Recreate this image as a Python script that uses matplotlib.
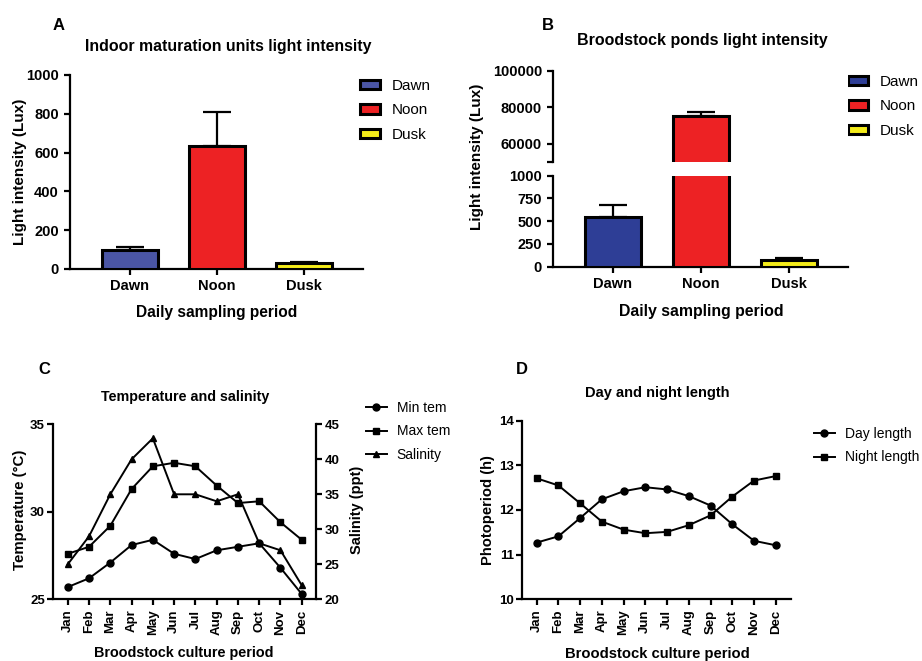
import matplotlib
matplotlib.use("Agg")
import matplotlib.pyplot as plt
from matplotlib.patches import Patch
import numpy as np

plt.rcParams['font.family'] = ['Liberation Sans', 'DejaVu Sans']

# ---------------- data ----------------
periods = ["Dawn", "Noon", "Dusk"]
indoor_mean = [100, 636, 30]
indoor_err = [13, 172, 7]
pond_mean = [545, 75000, 78]
pond_err = [136, 2200, 17]
bar_colors_a = ["#4b56a5", "#ed2224", "#f4ec1a"]
bar_colors_b = ["#2e3e96", "#ed2224", "#f4ec1a"]

months = ["Jan", "Feb", "Mar", "Apr", "May", "Jun", "Jul", "Aug", "Sep", "Oct", "Nov", "Dec"]
min_tem = [25.7, 26.2, 27.1, 28.1, 28.4, 27.6, 27.3, 27.8, 28.0, 28.2, 26.8, 25.3]
max_tem = [27.6, 28.0, 29.2, 31.3, 32.6, 32.8, 32.6, 31.5, 30.5, 30.6, 29.4, 28.4]
salinity = [25, 29, 35, 40, 43, 35, 35, 34, 35, 28, 27, 22]
day_length = [11.27, 11.41, 11.82, 12.24, 12.42, 12.51, 12.46, 12.31, 12.10, 11.68, 11.31, 11.21]
night_length = [12.71, 12.55, 12.15, 11.74, 11.56, 11.48, 11.51, 11.66, 11.88, 12.30, 12.66, 12.76]

W, H = 922, 661
fig = plt.figure(figsize=(W / 100, H / 100), dpi=100)

def fx(px):
    return px / W

def fy(py):
    return 1 - py / H

def rect(l, t, r, b):
    return [fx(l), fy(b), fx(r) - fx(l), fy(t) - fy(b)]

SPW = 1.6
BEW = 2.2

def style_axes(ax, bottom=True):
    for s in ["top", "right"]:
        ax.spines[s].set_visible(False)
    ax.spines["left"].set_linewidth(SPW)
    ax.spines["bottom"].set_linewidth(SPW)
    if not bottom:
        ax.spines["bottom"].set_visible(False)
    ax.tick_params(width=SPW, length=4.5, direction="out")

# ---------------- Panel A ----------------
axA = fig.add_axes(rect(70, 75, 363, 269))
xa = np.arange(len(periods))
axA.bar(xa, indoor_mean, width=0.64, color=bar_colors_a, edgecolor="black", linewidth=BEW, zorder=3)
axA.errorbar(xa, indoor_mean, yerr=[[0] * 3, indoor_err], fmt="none", ecolor="black",
             elinewidth=1.6, capsize=10, capthick=1.6, zorder=2)
axA.set_xlim(-0.69, 2.68)
axA.set_ylim(0, 1000)
axA.set_yticks([0, 200, 400, 600, 800, 1000])
axA.set_xticks(xa)
axA.set_xticklabels(periods)
style_axes(axA)
for lab in axA.get_xticklabels():
    lab.set_fontsize(10.5); lab.set_fontweight("bold")
for lab in axA.get_yticklabels():
    lab.set_fontsize(10.5); lab.set_fontweight("bold")
axA.tick_params(axis="x", pad=3)
handlesA = [Patch(facecolor=c, edgecolor="black", linewidth=BEW, label=p) for c, p in zip(bar_colors_a, periods)]
axA.legend(handles=handlesA, loc="upper left", bbox_to_anchor=(fx(360), fy(79)),
           bbox_transform=fig.transFigure, frameon=False, fontsize=11, borderpad=0,
           borderaxespad=0, handlelength=1.3, handleheight=0.6, handletextpad=0.8,
           labelspacing=0.68)
fig.text(fx(59), fy(25), "A", fontsize=12, fontweight="bold", ha="center", va="center")
fig.text(fx(228), fy(46), "Indoor maturation units light intensity", fontsize=11.4,
         fontweight="bold", ha="center", va="center")
fig.text(fx(217), fy(313), "Daily sampling period", fontsize=11.2, fontweight="bold",
         ha="center", va="center")
fig.text(fx(20), fy(172), "Light intensity (Lux)", fontsize=11, fontweight="bold",
         ha="center", va="center", rotation=90)

# ---------------- Panel B (broken axis) ----------------
axBl = fig.add_axes(rect(553, 175.7, 848, 266.7))
axBu = fig.add_axes(rect(553, 71, 848, 161.7))
xb = np.arange(len(periods))
for ax in (axBl, axBu):
    ax.bar(xb, pond_mean, width=0.64, color=bar_colors_b, edgecolor="black", linewidth=BEW, zorder=3)
    ax.errorbar(xb, pond_mean, yerr=[[0] * 3, pond_err], fmt="none", ecolor="black",
                elinewidth=1.6, capsize=10, capthick=1.6, zorder=2)
    ax.set_xlim(-0.68, 2.67)
axBl.set_ylim(0, 1000)
axBl.set_yticks([0, 250, 500, 750, 1000])
axBu.set_ylim(50000, 100000)
axBu.set_yticks([50000, 60000, 80000, 100000])
axBu.set_yticklabels(["", "60000", "80000", "100000"])
style_axes(axBl)
style_axes(axBu, bottom=False)
axBu.set_xticks([])
axBl.set_xticks(xb)
axBl.set_xticklabels(periods)
for lab in axBl.get_xticklabels():
    lab.set_fontsize(10.5); lab.set_fontweight("bold")
for ax in (axBl, axBu):
    for lab in ax.get_yticklabels():
        lab.set_fontsize(10.5); lab.set_fontweight("bold")
axBl.tick_params(axis="x", pad=3)
handlesB = [Patch(facecolor=c, edgecolor="black", linewidth=BEW, label=p) for c, p in zip(bar_colors_b, periods)]
axBl.legend(handles=handlesB, loc="upper left", bbox_to_anchor=(fx(848), fy(75)),
            bbox_transform=fig.transFigure, frameon=False, fontsize=11, borderpad=0,
            borderaxespad=0, handlelength=1.3, handleheight=0.6, handletextpad=0.8,
            labelspacing=0.68)
fig.text(fx(548), fy(25), "B", fontsize=12, fontweight="bold", ha="center", va="center")
fig.text(fx(702), fy(40), "Broodstock ponds light intensity", fontsize=11.5,
         fontweight="bold", ha="center", va="center")
fig.text(fx(701), fy(312), "Daily sampling period", fontsize=11.4, fontweight="bold",
         ha="center", va="center")
fig.text(fx(477), fy(157), "Light intensity (Lux)", fontsize=11, fontweight="bold",
         ha="center", va="center", rotation=90)

# ---------------- Panel C ----------------
axC = fig.add_axes(rect(53.3, 424.3, 316, 599.3))
axC2 = axC.twinx()
xm = np.arange(len(months))
l1, = axC.plot(xm, min_tem, color="black", marker="o", markersize=5, linewidth=1.4, label="Min tem")
l2, = axC.plot(xm, max_tem, color="black", marker="s", markersize=5, linewidth=1.4, label="Max tem")
l3, = axC2.plot(xm, salinity, color="black", marker="^", markersize=5, linewidth=1.4, label="Salinity")
axC.set_xlim(-0.68, 11.67)
axC.set_ylim(25, 35)
axC.set_yticks([25, 30, 35])
axC2.set_ylim(20, 45)
axC2.set_yticks([20, 25, 30, 35, 40, 45])
style_axes(axC)
axC2.spines["top"].set_visible(False)
axC2.spines["left"].set_visible(False)
axC2.spines["bottom"].set_visible(False)
axC2.spines["right"].set_linewidth(SPW)
axC2.tick_params(width=SPW, length=4, direction="out")
axC.tick_params(length=4)
axC.set_xticks(xm)
axC.set_xticklabels(months, rotation=90)
for lab in axC.get_xticklabels():
    lab.set_fontsize(9.5); lab.set_fontweight("bold")
for lab in axC.get_yticklabels() + axC2.get_yticklabels():
    lab.set_fontsize(9.5); lab.set_fontweight("bold")
axC.tick_params(axis="y", pad=2)
axC2.tick_params(axis="y", pad=2)
axC.legend(handles=[l1, l2, l3], loc="upper left", bbox_to_anchor=(fx(366), fy(401)),
           bbox_transform=fig.transFigure, frameon=False, fontsize=10, borderpad=0,
           borderaxespad=0, handlelength=1.5, handletextpad=0.7, labelspacing=0.68)
fig.text(fx(44), fy(370), "C", fontsize=12, fontweight="bold", ha="center", va="center")
fig.text(fx(185), fy(397), "Temperature and salinity", fontsize=10.3, fontweight="bold",
         ha="center", va="center")
fig.text(fx(184), fy(653), "Broodstock culture period", fontsize=10.4, fontweight="bold",
         ha="center", va="center")
fig.text(fx(20), fy(510), "Temperature (°C)", fontsize=10.8, fontweight="bold",
         ha="center", va="center", rotation=90)
fig.text(fx(357), fy(510), "Salinity (ppt)", fontsize=10.5, fontweight="bold",
         ha="center", va="center", rotation=90)

# ---------------- Panel D ----------------
axD = fig.add_axes(rect(522.3, 420.7, 791, 599.3))
d1, = axD.plot(xm, day_length, color="black", marker="o", markersize=5, linewidth=1.4, label="Day length")
d2, = axD.plot(xm, night_length, color="black", marker="s", markersize=5, linewidth=1.4, label="Night length")
axD.set_xlim(-0.66, 11.7)
axD.set_ylim(10, 14)
axD.set_yticks([10, 11, 12, 13, 14])
style_axes(axD)
axD.tick_params(length=4)
axD.set_xticks(xm)
axD.set_xticklabels(months, rotation=90)
for lab in axD.get_xticklabels():
    lab.set_fontsize(9.5); lab.set_fontweight("bold")
for lab in axD.get_yticklabels():
    lab.set_fontsize(9.5); lab.set_fontweight("bold")
axD.tick_params(axis="y", pad=2)
axD.legend(handles=[d1, d2], loc="upper left", bbox_to_anchor=(fx(814), fy(427)),
           bbox_transform=fig.transFigure, frameon=False, fontsize=10, borderpad=0,
           borderaxespad=0, handlelength=1.5, handletextpad=0.7, labelspacing=0.68)
fig.text(fx(522), fy(370), "D", fontsize=12, fontweight="bold", ha="center", va="center")
fig.text(fx(657), fy(393), "Day and night length", fontsize=10.5, fontweight="bold",
         ha="center", va="center")
fig.text(fx(657), fy(654), "Broodstock culture period", fontsize=10.6, fontweight="bold",
         ha="center", va="center")
fig.text(fx(488), fy(510), "Photoperiod (h)", fontsize=10.6, fontweight="bold",
         ha="center", va="center", rotation=90)

fig.savefig("out.png", dpi=100)
